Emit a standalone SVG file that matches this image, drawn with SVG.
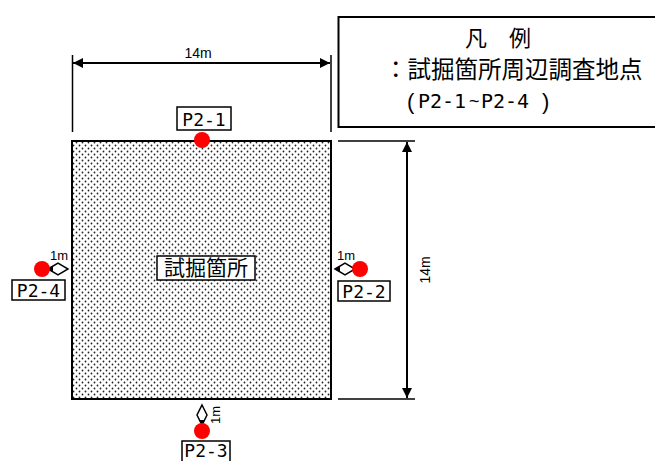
<svg xmlns="http://www.w3.org/2000/svg" width="655" height="461" viewBox="0 0 655 461">
<style>
.ln{stroke:#000;stroke-width:1.5;fill:none}
.dim{stroke:#000;stroke-width:2;fill:none}
.lbl{font-family:"DejaVu Sans Mono","Liberation Mono",monospace;font-size:18px;fill:#000}
.sm{font-family:"Liberation Sans",Arial,sans-serif;font-size:14px;fill:#000}
.jp{font-family:"Noto Sans CJK JP","Noto Sans CJK SC",sans-serif;fill:#000}
.box{fill:#fff;stroke:#000;stroke-width:1.5}
.pt{fill:#ff0000}
.dia{fill:#fff;stroke:#000;stroke-width:1.5}
</style>
<defs>
<pattern id="dots" width="6" height="6" patternUnits="userSpaceOnUse">
<rect width="6" height="6" fill="#fff"/>
<circle cx="1.5" cy="1.5" r="0.9" fill="#222"/>
<circle cx="4.5" cy="4.5" r="0.9" fill="#222"/>
</pattern>
<marker id="ah" viewBox="0 0 10 10" refX="10" refY="5" markerWidth="10" markerHeight="10" markerUnits="userSpaceOnUse" orient="auto-start-reverse">
<path d="M0,0 L10,5 L0,10 Z" fill="#000"/>
</marker>
</defs>

<g id="legend">
<rect x="338.5" y="17" width="330" height="110" fill="#fff" stroke="#000" stroke-width="2"/>
<text class="jp" x="465" y="46" style="font-size:22px">凡　例</text>
<text class="jp" x="384" y="78" style="font-size:23.5px">：試掘箇所周辺調査地点</text>
<text class="sm" x="407" y="109" style="font-size:22px">(</text>
<text class="lbl" x="418" y="108" style="font-size:20px">P2-1</text>
<text class="sm" x="469" y="107" style="font-size:18px">~</text>
<text class="lbl" x="481" y="108" style="font-size:20px">P2-4</text>
<text class="sm" x="542" y="109" style="font-size:22px">)</text>
</g>

<g id="site">
<rect x="72" y="141" width="259" height="258" fill="url(#dots)" stroke="#000" stroke-width="2"/>
<rect class="box" x="157" y="256" width="98" height="24"/>
<text class="jp" x="206" y="275" style="font-size:21px" text-anchor="middle">試掘箇所</text>
</g>

<g id="connectors">
<line class="ln" x1="72.5" y1="55" x2="72.5" y2="132"/>
<line class="ln" x1="331" y1="55" x2="331" y2="132"/>
<line class="dim" x1="73" y1="63" x2="330" y2="63" marker-start="url(#ah)" marker-end="url(#ah)"/>
<text class="sm" x="198" y="58" text-anchor="middle">14m</text>
<line class="ln" x1="338" y1="141" x2="415" y2="141"/>
<line class="ln" x1="338" y1="399" x2="415" y2="399"/>
<line class="dim" x1="407" y1="142" x2="407" y2="398" marker-start="url(#ah)" marker-end="url(#ah)"/>
<text class="sm" transform="translate(430,270) rotate(-90)" text-anchor="middle">14m</text>
</g>

<g id="P2-1">
<rect class="box" x="177" y="107" width="54" height="23"/>
<text class="lbl" x="204" y="125.5" text-anchor="middle">P2-1</text>
<circle class="pt" cx="202" cy="140" r="8"/>
</g>

<g id="P2-2">
<polygon class="dia" points="335,269 345,263 355,269 345,275"/>
<path d="M335,269 L340,266 L340,272 Z" fill="#000"/>
<text class="sm" x="346" y="260" text-anchor="middle" style="font-size:13px">1m</text>
<circle class="pt" cx="360" cy="269" r="8"/>
<rect class="box" x="338" y="281" width="52" height="20"/>
<text class="lbl" x="364" y="298" text-anchor="middle">P2-2</text>
</g>

<g id="P2-3">
<polygon class="dia" points="202,405 207,415 202,425 197,415"/>
<path d="M202,425 L199,420 L205,420 Z" fill="#000"/>
<text class="sm" transform="translate(220,415) rotate(-90)" text-anchor="middle" style="font-size:13px">1m</text>
<circle class="pt" cx="202" cy="431" r="8"/>
<rect class="box" x="182" y="441" width="48" height="21"/>
<text class="lbl" x="206" y="457" text-anchor="middle">P2-3</text>
</g>

<g id="P2-4">
<polygon class="dia" points="48,269 58,263 68,269 58,275"/>
<path d="M48,269 L53,266 L53,272 Z" fill="#000"/>
<text class="sm" x="59" y="260" text-anchor="middle" style="font-size:13px">1m</text>
<circle class="pt" cx="42" cy="269" r="8"/>
<rect class="box" x="12" y="280" width="53" height="20"/>
<text class="lbl" x="38.5" y="297" text-anchor="middle">P2-4</text>
</g>
</svg>
